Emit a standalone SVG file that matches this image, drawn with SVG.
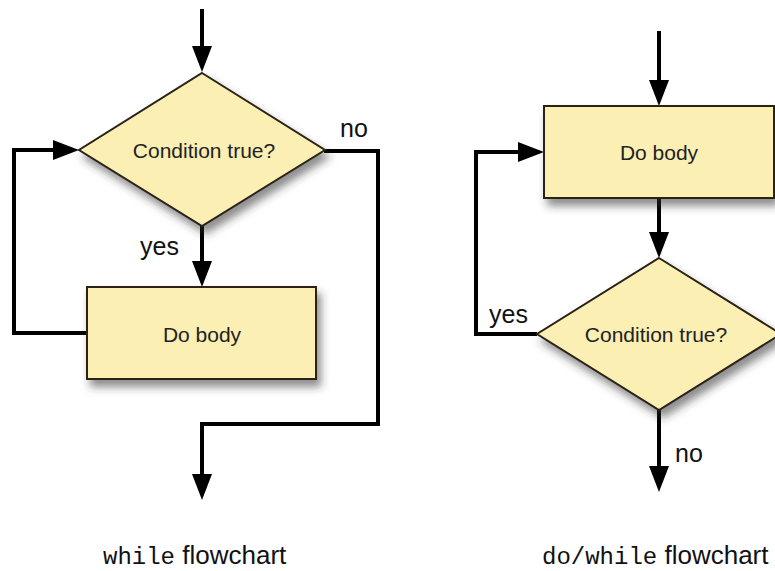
<svg xmlns="http://www.w3.org/2000/svg" width="775" height="571" viewBox="0 0 775 571">
<style>
.node{fill:#FBEFB4;stroke:#2a2418;stroke-width:2;filter:url(#sh)}
.lbl{font-family:"Liberation Sans",Arial,sans-serif;font-size:21px;fill:#222;text-anchor:middle}
.edge{font-family:"Liberation Sans",Arial,sans-serif;font-size:25px;fill:#111}
.conn{fill:none;stroke:#000;stroke-width:4;marker-end:url(#ah)}
.cap{font-family:"Liberation Sans",Arial,sans-serif;font-size:26px;fill:#111}
.mono{font-family:"Liberation Mono","Courier New",monospace;font-size:24px}
</style>
<defs>
<filter id="sh" x="-20%" y="-20%" width="150%" height="160%">
<feDropShadow dx="4" dy="7" stdDeviation="4" flood-color="#333" flood-opacity="0.55"/>
</filter>
<marker id="ah" markerUnits="userSpaceOnUse" markerWidth="28" markerHeight="22" viewBox="0 0 28 22" refX="0" refY="11" orient="auto">
<path d="M0,1 L26,11 L0,21 z" fill="#000"/>
</marker>
</defs>
<g id="connectors">
<path class="conn" d="M202,9 V46"/>
<path class="conn" d="M202,226 V261"/>
<path class="conn" d="M87,333 H14 V150 H53"/>
<path class="conn" d="M324,151 H378 V424 H202 V474"/>
<path class="conn" d="M659,31 V80"/>
<path class="conn" d="M659,198 V232"/>
<path class="conn" d="M537,334 H476 V152 H518"/>
<path class="conn" d="M659,410 V466"/>
</g>
<g id="while-cond">
<polygon class="node" points="202,73 325,150 202,226 79,150"/>
<text class="lbl" x="204" y="158">Condition true?</text>
</g>
<g id="while-body">
<rect class="node" x="87" y="287" width="229" height="92"/>
<text class="lbl" x="202" y="342">Do body</text>
</g>
<g id="do-body">
<rect class="node" x="544" y="106" width="230" height="92"/>
<text class="lbl" x="659" y="160">Do body</text>
</g>
<g id="do-cond">
<polygon class="node" points="659,258 781,334 659,410 537,334"/>
<text class="lbl" x="656" y="342">Condition true?</text>
</g>
<g id="labels">
<text class="edge" x="340" y="137">no</text>
<text class="edge" x="140" y="255">yes</text>
<text class="edge" x="489" y="323">yes</text>
<text class="edge" x="675" y="462">no</text>
</g>
<g id="captions">
<text class="cap" x="103" y="564"><tspan class="mono">while</tspan> flowchart</text>
<text class="cap" x="542" y="564"><tspan class="mono">do/while</tspan> flowchart</text>
</g>
</svg>
